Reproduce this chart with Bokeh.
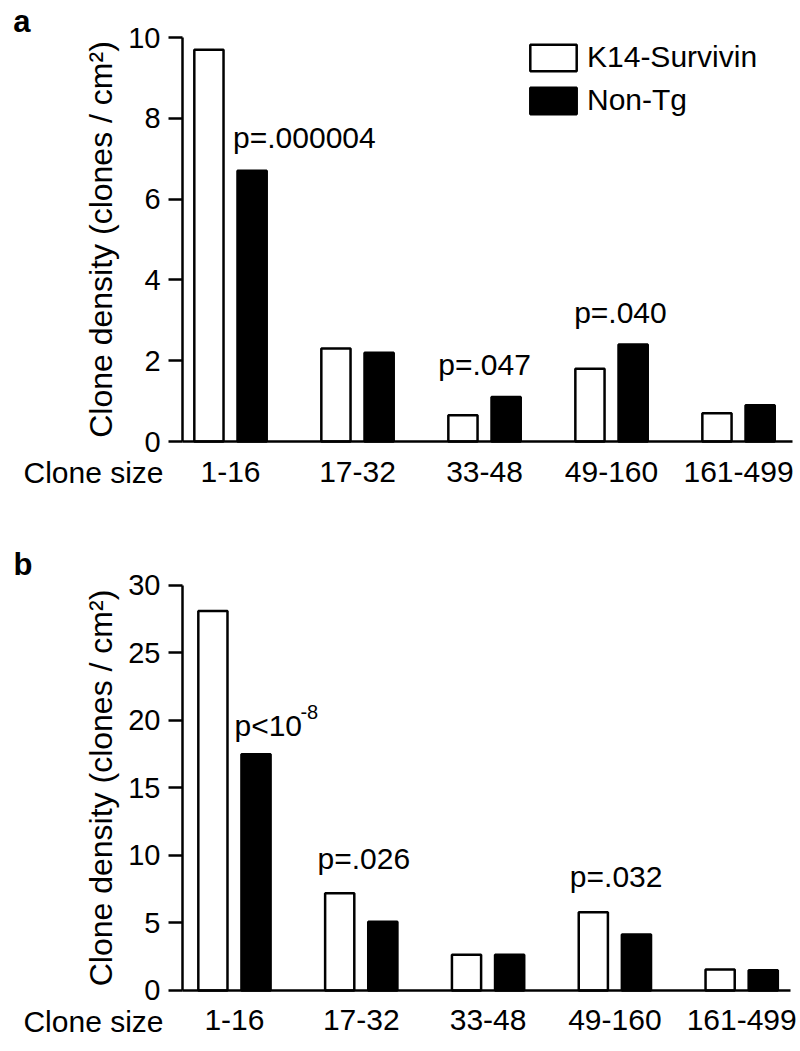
import numpy as np
from bokeh.plotting import figure
from bokeh.models import (Range1d, FixedTicker, Label, Legend, LegendItem,
                          ColumnDataSource)
from bokeh.layouts import column
from bokeh.embed import file_html
from bokeh.resources import INLINE
from bokeh.core.properties import value

# ---------------- data ----------------
categories = ["1-16", "17-32", "33-48", "49-160", "161-499"]
series_names = ["K14-Survivin", "Non-Tg"]

a_k14 = [9.7, 2.3, 0.65, 1.8, 0.7]
a_nontg = [6.7, 2.2, 1.1, 2.4, 0.9]
a_yticks = [0, 2, 4, 6, 8, 10]

b_k14 = [28.1, 7.2, 2.65, 5.8, 1.55]
b_nontg = [17.5, 5.1, 2.65, 4.15, 1.5]
b_yticks = [0, 5, 10, 15, 20, 25, 30]

# p-value annotations (text, x in category units, y in data units, alignment)
a_p_text = ["p=.000004", "p=.047", "p=.040"]
a_p_x = [0.02, 2.0, 3.07]
a_p_y = [7.52, 1.90, 3.20]
a_p_align = ["left", "center", "center"]

b_p_text = ["p<10", "p=.026", "p=.032"]
b_p_x = [0.0, 1.02, 3.01]
b_p_y = [19.61, 9.79, 8.43]
b_p_align = ["left", "center", "center"]
b_p_sup_text = ["-8"]
b_p_sup_x = [0.52]
b_p_sup_y = [20.66]

FONT = "Liberation Sans"
Y_LABEL = "Clone density (clones / cm\u00b2)"


def make_panel(k14, nontg, yticks, ymax, view_x, view_y, axis_x, frame_h,
               letter, letter_xy, clone_xy, p_text, p_x, p_y, p_align,
               with_legend=False):
    p = figure(frame_width=798, frame_height=frame_h,
               x_range=Range1d(*view_x), y_range=Range1d(*view_y),
               output_backend="svg", toolbar_location=None, min_border=0)
    p.outline_line_color = None
    p.xgrid.visible = False
    p.ygrid.visible = False
    p.background_fill_color = "white"
    p.border_fill_color = "white"

    idx = np.arange(len(categories))
    src = ColumnDataSource(dict(xw=idx - 0.17, xb=idx + 0.17, k14=k14, nontg=nontg))
    r1 = p.vbar(x="xw", top="k14", width=0.23, bottom=0, source=src,
                fill_color="white", line_color="black", line_width=2.5)
    r2 = p.vbar(x="xb", top="nontg", width=0.23, bottom=0, source=src,
                fill_color="black", line_color="black", line_width=2.5)

    # x axis, drawn at y = 0 and from the y axis to the right end
    xa = p.xaxis[0]
    xa.fixed_location = 0
    xa.bounds = (axis_x[0], axis_x[1])
    xa.ticker = FixedTicker(ticks=list(idx))
    xa.major_label_overrides = {int(i): c for i, c in zip(idx, categories)}
    xa.major_tick_line_color = None
    xa.minor_tick_line_color = None
    xa.major_tick_out = 0
    xa.major_tick_in = 0
    xa.axis_line_width = 2.5
    xa.axis_line_color = "black"
    xa.major_label_text_font = FONT
    xa.major_label_text_font_size = "30px"
    xa.major_label_text_color = "black"
    xa.major_label_standoff = 20

    # y axis, drawn at the left end of the category axis
    ya = p.yaxis[0]
    ya.fixed_location = axis_x[0]
    ya.bounds = (0, ymax)
    ya.ticker = FixedTicker(ticks=yticks)
    ya.minor_tick_line_color = None
    ya.major_tick_out = 14
    ya.major_tick_in = 0
    ya.major_tick_line_width = 2.5
    ya.major_tick_line_color = "black"
    ya.axis_line_width = 2.5
    ya.axis_line_color = "black"
    ya.major_label_text_font = FONT
    ya.major_label_text_font_size = "29px"
    ya.major_label_text_color = "black"
    ya.major_label_standoff = 8
    ya.axis_label = Y_LABEL
    ya.axis_label_text_font = FONT
    ya.axis_label_text_font_size = "32px"
    ya.axis_label_text_font_style = "normal"
    ya.axis_label_text_color = "black"
    ya.axis_label_standoff = 6

    # p-values
    psrc = ColumnDataSource(dict(x=p_x, y=p_y, t=p_text, a=p_align))
    p.text(x="x", y="y", text="t", text_align="a", text_baseline="alphabetic",
           source=psrc, text_font=value(FONT), text_font_size="30px",
           text_color="black")

    # panel letter & "Clone size"
    p.add_layout(Label(x=letter_xy[0], y=letter_xy[1], text=letter,
                       text_font=FONT, text_font_size="31px",
                       text_font_style="bold", text_color="black",
                       text_baseline="alphabetic"))
    p.add_layout(Label(x=clone_xy[0], y=clone_xy[1], text="Clone size",
                       text_font=FONT, text_font_size="30px",
                       text_color="black", text_baseline="alphabetic"))

    if with_legend:
        leg = Legend(items=[LegendItem(label=series_names[0], renderers=[r1]),
                            LegendItem(label=series_names[1], renderers=[r2])],
                     location=(524, 423), glyph_width=58, glyph_height=33,
                     spacing=9, padding=0, margin=0, label_standoff=5,
                     label_text_font=FONT, label_text_font_size="30px",
                     label_text_color="black",
                     border_line_color=None, background_fill_alpha=0)
        p.add_layout(leg)
    return p


pa = make_panel(a_k14, a_nontg, a_yticks, 10,
                (-1.811, 4.472), (-2.450, 10.916), (-0.378, 4.425), 540,
                "a", (-1.71, 10.39), (-1.63, -0.767),
                a_p_text, a_p_x, a_p_y, a_p_align, with_legend=True)

pb = make_panel(b_k14, b_nontg, b_yticks, 30,
                (-1.845, 4.448), (-4.296, 33.33), (-0.41, 4.385), 508,
                "b", (-1.743, 31.55), (-1.664, -2.296),
                b_p_text, b_p_x, b_p_y, b_p_align)
sup_src = ColumnDataSource(dict(x=b_p_sup_x, y=b_p_sup_y, t=b_p_sup_text))
pb.text(x="x", y="y", text="t", text_align="left", text_baseline="alphabetic",
        source=sup_src, text_font=value(FONT), text_font_size="20px",
        text_color="black")

layout = column(pa, pb)
open("out.html", "w").write(file_html(layout, INLINE))
